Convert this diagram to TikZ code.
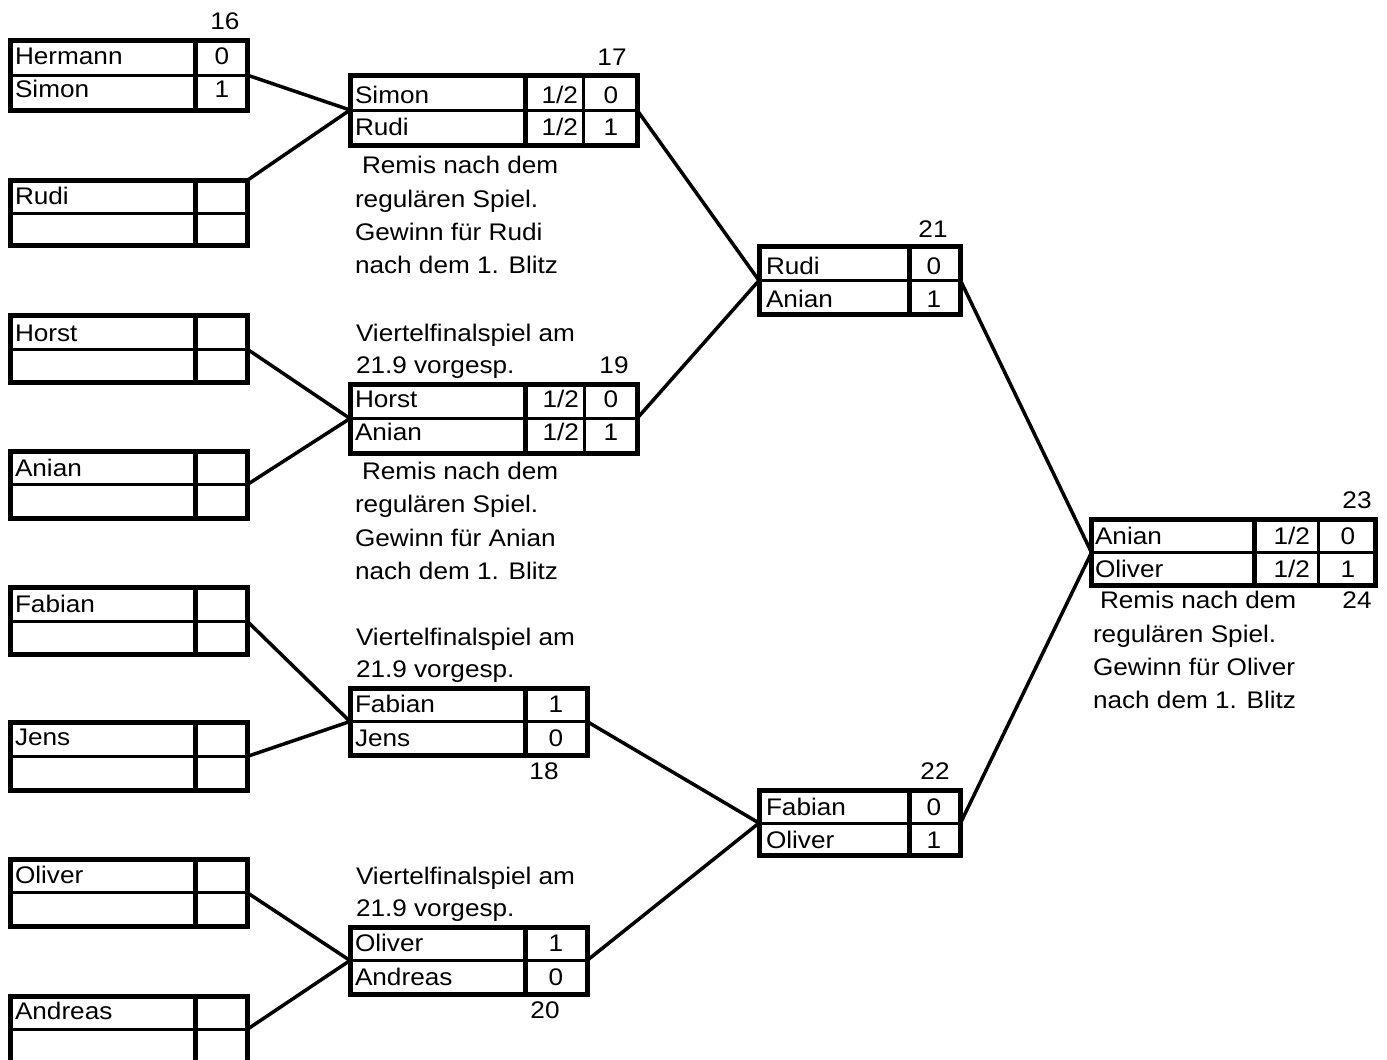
\documentclass[tikz,border=0pt]{standalone}
\usepackage{fontspec}
\setmainfont{Liberation Sans}[FakeStretch=1.09]
\newcommand\playerbox[5]{%
  \node[box,minimum width=237pt,minimum height=#3pt] (#1) at (10,#2) {};
  \draw[thickdiv] (195,#2) -- ++(0,#3);
  \draw[midline] (#1.west) -- (#1.east);
  \node[txt] (#1t) at (15,#5) {#4};
}
\begin{document}
\begin{tikzpicture}[x=1pt,y=-1pt,
  box/.style={draw,line width=5pt,inner sep=0pt,outer sep=0pt,anchor=north west,rectangle},
  thickdiv/.style={line width=5pt},
  thindiv/.style={line width=3pt},
  midline/.style={line width=3pt},
  conn/.style={line width=3.5pt},
  txt/.style={inner sep=0pt,outer sep=0pt,anchor=base west,font=\fontsize{24}{33}\selectfont},
  numc/.style={inner sep=0pt,outer sep=0pt,anchor=base,font=\fontsize{24}{33}\selectfont},
  numr/.style={inner sep=0pt,outer sep=0pt,anchor=base east,font=\fontsize{24}{33}\selectfont}]
\useasboundingbox (0,0) rectangle (1387,1060);
\clip (0,0) rectangle (1387,1060);

% ---------- first round ----------
\playerbox{B1}{40}{70}{Hermann}{64}
\node[txt] (B1u) at (15,97) {Simon};
\node[numc] (B1a) at (222,64) {0};
\node[numc] (B1b) at (222,97) {1};
\node[numc] (L16) at (225,29) {16};
\playerbox{B2}{180.5}{65}{Rudi}{204}
\playerbox{B3}{315.5}{67}{Horst}{341}
\playerbox{B4}{451}{67.5}{Anian}{476}
\playerbox{B5}{587.5}{67}{Fabian}{612}
\playerbox{B6}{722.5}{68}{Jens}{745}
\playerbox{B7}{859}{67}{Oliver}{883}
\playerbox{B8}{996}{67}{Andreas}{1019}

% ---------- quarter finals ----------
% 17
\node[box,minimum width=287pt,minimum height=70pt] (M17) at (350,75) {};
\draw[thickdiv] (525,75) -- (525,145);
\draw[thindiv] (583,75) -- (583,145);
\draw[midline] (M17.west) -- (M17.east);
\node[txt] (M17a) at (355,103) {Simon};
\node[txt] (M17b) at (355,135) {Rudi};
\node[numr] (M17c) at (578,103) {1/2};
\node[numr] (M17d) at (578,135) {1/2};
\node[numc] (M17e) at (611,103) {0};
\node[numc] (M17f) at (611,135) {1};
\node[numc] (L17) at (612,65) {17};
\node[txt] (N17a) at (362,173) {Remis nach dem};
\node[txt] (N17b) at (355,207) {regulären Spiel.};
\node[txt] (N17c) at (355,240) {Gewinn für Rudi};
\node[txt] (N17d) at (355,273) {nach dem 1. Blitz};

% 19
\node[box,minimum width=287pt,minimum height=69pt] (M19) at (350,384) {};
\draw[thickdiv] (525,384) -- (525,453);
\draw[thindiv] (584,384) -- (584,453);
\draw[midline] (M19.west) -- (M19.east);
\node[txt] (M19a) at (355,407) {Horst};
\node[txt] (M19b) at (355,440) {Anian};
\node[numr] (M19c) at (579,407) {1/2};
\node[numr] (M19d) at (579,440) {1/2};
\node[numc] (M19e) at (611,407) {0};
\node[numc] (M19f) at (611,440) {1};
\node[numc] (L19) at (614,373) {19};
\node[txt] (V19a) at (356,341) {Viertelfinalspiel am};
\node[txt] (V19b) at (356,373) {21.9 vorgesp.};
\node[txt] (N19a) at (362,479) {Remis nach dem};
\node[txt] (N19b) at (355,512) {regulären Spiel.};
\node[txt] (N19c) at (355,546) {Gewinn für Anian};
\node[txt] (N19d) at (355,579) {nach dem 1. Blitz};

% 18
\node[box,minimum width=237pt,minimum height=67pt] (M18) at (350,688) {};
\draw[thickdiv] (525,688) -- (525,755);
\draw[midline] (M18.west) -- (M18.east);
\node[txt] (M18a) at (355,712) {Fabian};
\node[txt] (M18b) at (355,746) {Jens};
\node[numc] (M18c) at (556,712) {1};
\node[numc] (M18d) at (556,746) {0};
\node[numc] (L18) at (544,779) {18};
\node[txt] (V18a) at (356,645) {Viertelfinalspiel am};
\node[txt] (V18b) at (356,677) {21.9 vorgesp.};

% 20
\node[box,minimum width=237pt,minimum height=67pt] (M20) at (350,927) {};
\draw[thickdiv] (525,927) -- (525,994);
\draw[midline] (M20.west) -- (M20.east);
\node[txt] (M20a) at (355,951) {Oliver};
\node[txt] (M20b) at (355,985) {Andreas};
\node[numc] (M20c) at (556,951) {1};
\node[numc] (M20d) at (556,985) {0};
\node[numc] (L20) at (545,1018) {20};
\node[txt] (V20a) at (356,884) {Viertelfinalspiel am};
\node[txt] (V20b) at (356,916) {21.9 vorgesp.};

% ---------- semi finals ----------
% 21
\node[box,minimum width=201.5pt,minimum height=68pt] (M21) at (759,246.5) {};
\draw[thickdiv] (909.5,246.5) -- (909.5,314.5);
\draw[midline] (M21.west) -- (M21.east);
\node[txt] (M21a) at (766,274) {Rudi};
\node[txt] (M21b) at (766,307) {Anian};
\node[numc] (M21c) at (934,274) {0};
\node[numc] (M21d) at (934,307) {1};
\node[numc] (L21) at (933,237) {21};

% 22
\node[box,minimum width=201.5pt,minimum height=65pt] (M22) at (759,790.5) {};
\draw[thickdiv] (909.5,790.5) -- (909.5,855.5);
\draw[midline] (M22.west) -- (M22.east);
\node[txt] (M22a) at (766,815) {Fabian};
\node[txt] (M22b) at (766,848) {Oliver};
\node[numc] (M22c) at (934,815) {0};
\node[numc] (M22d) at (934,848) {1};
\node[numc] (L22) at (935,779) {22};

% ---------- final ----------
\node[box,minimum width=284pt,minimum height=66pt] (M23) at (1091.5,519.5) {};
\draw[thickdiv] (1254.5,519.5) -- (1254.5,585.5);
\draw[thindiv] (1318.5,519.5) -- (1318.5,585.5);
\draw[midline] (M23.west) -- (M23.east);
\node[txt] (M23a) at (1095,544) {Anian};
\node[txt] (M23b) at (1095,577) {Oliver};
\node[numr] (M23c) at (1310,544) {1/2};
\node[numr] (M23d) at (1310,577) {1/2};
\node[numc] (M23e) at (1348,544) {0};
\node[numc] (M23f) at (1348,577) {1};
\node[numc] (L23) at (1357,508) {23};
\node[numc] (L24) at (1357,608) {24};
\node[txt] (N23a) at (1100,608) {Remis nach dem};
\node[txt] (N23b) at (1093,642) {regulären Spiel.};
\node[txt] (N23c) at (1093,675) {Gewinn für Oliver};
\node[txt] (N23d) at (1093,708) {nach dem 1. Blitz};

% ---------- connectors ----------
\draw[conn] (B1.east) -- (M17.west);
\draw[conn] (B2.north east) -- (M17.west);
\draw[conn] (B3.east) -- (M19.west);
\draw[conn] (B4.east) -- (M19.west);
\draw[conn] (B5.east) -- (M18.west);
\draw[conn] (B6.east) -- (M18.west);
\draw[conn] (B7.east) -- (M20.west);
\draw[conn] (B8.east) -- (M20.west);
\draw[conn] (M17.east) -- (M21.west);
\draw[conn] (M19.east) -- (M21.west);
\draw[conn] (M18.east) -- (M22.west);
\draw[conn] (M20.east) -- (M22.west);
\draw[conn] (M21.east) -- (M23.west);
\draw[conn] (M22.east) -- (M23.west);
\end{tikzpicture}
\end{document}
